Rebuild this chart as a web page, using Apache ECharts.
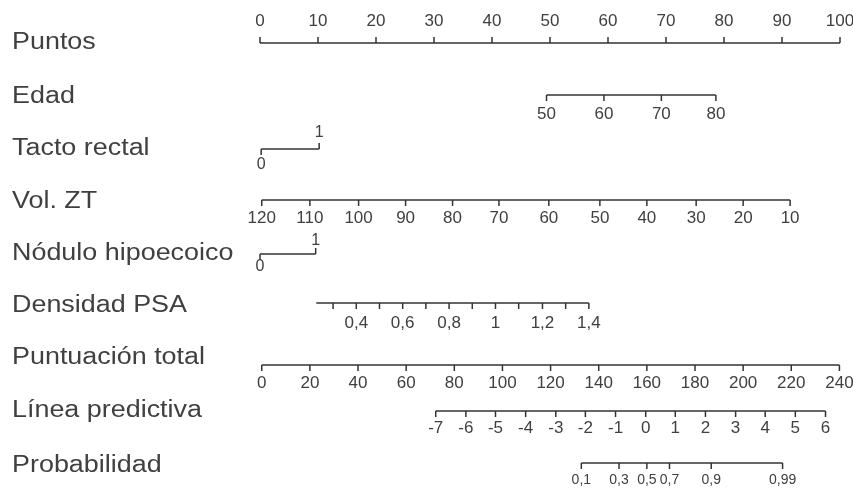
<!DOCTYPE html>
<html>
<head>
    <meta charset="utf-8">
    <title>Nomograma</title>
    <style type="text/css">
        html, body {
            margin: 0;
            padding: 0;
            background: #fff;
        }
        #main {
            width: 853px;
            height: 488px;
        }
    </style>
</head>
<body>
<div id="main"></div>
<script src="https://cdn.jsdelivr.net/npm/echarts@6/dist/echarts.min.js"></script>
<script>
    // titulos de cada fila
    var rowNames = ['Puntos', 'Edad', 'Tacto rectal', 'Vol. ZT', 'Nódulo hipoecoico',
        'Densidad PSA', 'Puntuación total', 'Línea predictiva', 'Probabilidad'];

    // cada escala: etiquetas y su posicion en la escala de puntos (0-100)
    var puntosLabels = ['0', '10', '20', '30', '40', '50', '60', '70', '80', '90', '100'];
    var puntosPts = [0, 10, 20, 30, 40, 50, 60, 70, 80, 90, 100];

    var edadLabels = ['50', '60', '70', '80'];
    var edadPts = [49.4, 59.3, 69.2, 78.6];

    var tactoLabels = ['0', '1'];
    var tactoPts = [0.2, 10.2];

    var volLabels = ['120', '110', '100', '90', '80', '70', '60', '50', '40', '30', '20', '10'];
    var volPts = [0.3, 8.6, 17.0, 25.1, 33.2, 41.2, 49.8, 58.6, 66.7, 75.2, 83.3, 91.4];

    var noduloLabels = ['0', '1'];
    var noduloPts = [0, 9.6];

    var densLabels = ['', '0,4', '', '0,6', '', '0,8', '', '1', '', '1,2', '', '1,4'];
    var densPts = [12.6, 16.6, 20.6, 24.6, 28.6, 32.6, 36.6, 40.6, 44.6, 48.7, 52.7, 56.7];
    var densStart = 9.7;

    var totalLabels = ['0', '20', '40', '60', '80', '100', '120', '140', '160', '180', '200', '220', '240'];
    var totalPts = [0.3, 8.6, 16.9, 25.2, 33.5, 41.8, 50.1, 58.4, 66.7, 75.0, 83.3, 91.6, 99.9];

    var lineaLabels = ['-7', '-6', '-5', '-4', '-3', '-2', '-1', '0', '1', '2', '3', '4', '5', '6'];
    var lineaPts = [30.3, 35.5, 40.6, 45.8, 51.0, 56.1, 61.3, 66.5, 71.6, 76.8, 82.0, 87.1, 92.3, 97.5];

    var probLabels = ['0,1', '0,3', '0,5', '0,7', '0,9', '0,99'];
    var probPts = [55.4, 61.9, 66.7, 70.6, 77.8, 90.1];

    // filas: y = posicion vertical de la linea (px), dir: -1 marcas hacia arriba, 1 hacia abajo
    var rows = [
        {y: 43, pts: puntosPts, labels: puntosLabels, dirs: null, dir: -1, off: 22, size: 17},
        {y: 95, pts: edadPts, labels: edadLabels, dirs: null, dir: 1, off: 19, size: 17},
        {y: 149, pts: tactoPts, labels: tactoLabels, dirs: [1, -1], dir: 1, off: 16, size: 16},
        {y: 200, pts: volPts, labels: volLabels, dirs: null, dir: 1, off: 18, size: 17},
        {y: 254, pts: noduloPts, labels: noduloLabels, dirs: [1, -1], dir: 1, off: 13, size: 16},
        {y: 303, pts: densPts, labels: densLabels, dirs: null, dir: 1, off: 20, size: 17, start: densStart},
        {y: 365, pts: totalPts, labels: totalLabels, dirs: null, dir: 1, off: 18, size: 17},
        {y: 411, pts: lineaPts, labels: lineaLabels, dirs: null, dir: 1, off: 17, size: 17},
        {y: 463, pts: probPts, labels: probLabels, dirs: null, dir: 1, off: 17, size: 14}
    ];
    var titleY = [43, 97, 149, 202, 254, 306, 358, 411, 466];

    var lineColor = '#333';
    var textColor = '#404040';
    var fontFamily = 'Liberation Sans, Arial, sans-serif';

    var myChart = echarts.init(document.getElementById('main'));

    var series = [];

    rows.forEach(function (row) {
        var from = row.start != null ? row.start : row.pts[0];
        var to = row.pts[row.pts.length - 1];
        // linea de la escala
        series.push({
            type: 'line',
            silent: true,
            symbol: 'none',
            animation: false,
            lineStyle: {color: lineColor, width: 1.5},
            data: [[from, row.y], [to, row.y]]
        });
        // marcas y etiquetas
        series.push({
            type: 'custom',
            silent: true,
            animation: false,
            clip: false,
            data: row.pts.map(function (p) {
                return [p, row.y];
            }),
            renderItem: function (params, api) {
                var i = params.dataIndex;
                var pt = api.coord([api.value(0), api.value(1)]);
                var d = row.dirs ? row.dirs[i] : row.dir;
                return {
                    type: 'group',
                    children: [{
                        type: 'line',
                        shape: {x1: pt[0], y1: pt[1], x2: pt[0], y2: pt[1] + d * 6},
                        style: {stroke: lineColor, lineWidth: 1.5}
                    }, {
                        type: 'text',
                        x: pt[0],
                        y: pt[1] + d * row.off,
                        style: {
                            text: row.labels[i],
                            fill: textColor,
                            fontSize: row.size,
                            fontFamily: fontFamily,
                            align: 'center',
                            verticalAlign: 'middle'
                        }
                    }]
                };
            }
        });
    });

    // titulos
    series.push({
        type: 'custom',
        silent: true,
        animation: false,
        clip: false,
        data: titleY.map(function (y) {
            return [0, y];
        }),
        renderItem: function (params, api) {
            var pt = api.coord([0, api.value(1)]);
            return {
                type: 'text',
                x: 12,
                y: pt[1],
                scaleX: 1.17,
                style: {
                    text: rowNames[params.dataIndex],
                    fill: textColor,
                    fontSize: 23,
                    fontFamily: fontFamily,
                    align: 'left',
                    verticalAlign: 'middle'
                }
            };
        }
    });

    var option = {
        animation: false,
        grid: {left: 260, right: 13, top: 0, bottom: 0},
        xAxis: {type: 'value', min: 0, max: 100, show: false},
        yAxis: {type: 'value', min: 0, max: 488, inverse: true, show: false},
        series: series
    };

    myChart.setOption(option);
</script>
</body>
</html>
